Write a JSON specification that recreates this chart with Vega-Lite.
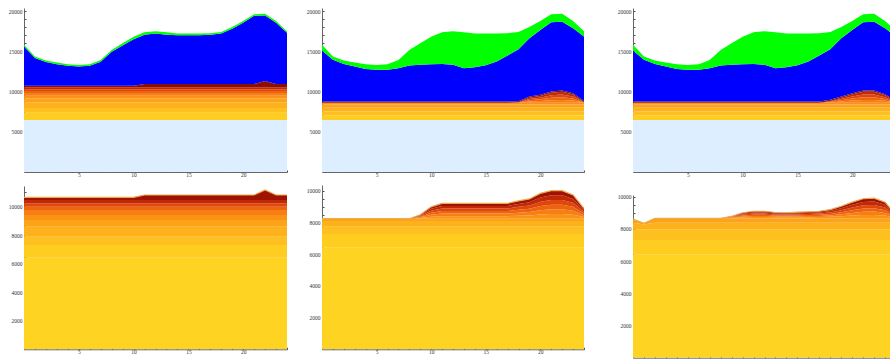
{
"$schema": "https://vega.github.io/schema/vega-lite/v6.json",
"padding": {"left": 0, "top": 8, "right": 0, "bottom": 0},
"background": "white",
"config": {
  "view": {"stroke": null},
  "axis": {"grid": false, "labelFont": "Liberation Serif", "labelFontSize": 5.5, "labelColor": "#333333", "labelPadding": 2, "domainColor": "#555555", "domainWidth": 0.9, "tickColor": "#222222", "tickSize": -2, "tickWidth": 0.8, "labelOverlap": false, "title": null},
  "axisY": {"labelPadding": 4}
},
"resolve": {"scale": {"color": "independent"}},
"datasets": {"d": [
{"p":1,"x":0,"c00":6470,"c01":895,"c02":585,"c03":700,"c04":470,"c05":350,"c06":350,"c07":230,"c08":240,"c09":230,"c10":180,"c11":4900,"c12":200},
{"p":1,"x":1,"c00":6470,"c01":895,"c02":585,"c03":700,"c04":470,"c05":350,"c06":350,"c07":230,"c08":240,"c09":230,"c10":180,"c11":3450,"c12":200},
{"p":1,"x":2,"c00":6470,"c01":895,"c02":585,"c03":700,"c04":470,"c05":350,"c06":350,"c07":230,"c08":240,"c09":230,"c10":180,"c11":2950,"c12":200},
{"p":1,"x":3,"c00":6470,"c01":895,"c02":585,"c03":700,"c04":470,"c05":350,"c06":350,"c07":230,"c08":240,"c09":230,"c10":180,"c11":2700,"c12":200},
{"p":1,"x":4,"c00":6470,"c01":895,"c02":585,"c03":700,"c04":470,"c05":350,"c06":350,"c07":230,"c08":240,"c09":230,"c10":180,"c11":2500,"c12":200},
{"p":1,"x":5,"c00":6470,"c01":895,"c02":585,"c03":700,"c04":470,"c05":350,"c06":350,"c07":230,"c08":240,"c09":230,"c10":180,"c11":2400,"c12":200},
{"p":1,"x":6,"c00":6470,"c01":895,"c02":585,"c03":700,"c04":470,"c05":350,"c06":350,"c07":230,"c08":240,"c09":230,"c10":180,"c11":2500,"c12":200},
{"p":1,"x":7,"c00":6470,"c01":895,"c02":585,"c03":700,"c04":470,"c05":350,"c06":350,"c07":230,"c08":240,"c09":230,"c10":180,"c11":3000,"c12":200},
{"p":1,"x":8,"c00":6470,"c01":895,"c02":585,"c03":700,"c04":470,"c05":350,"c06":350,"c07":230,"c08":240,"c09":230,"c10":180,"c11":4250,"c12":200},
{"p":1,"x":9,"c00":6470,"c01":895,"c02":585,"c03":700,"c04":470,"c05":350,"c06":350,"c07":230,"c08":240,"c09":230,"c10":180,"c11":5000,"c12":300},
{"p":1,"x":10,"c00":6470,"c01":895,"c02":585,"c03":700,"c04":470,"c05":350,"c06":350,"c07":230,"c08":240,"c09":230,"c10":180,"c11":5800,"c12":300},
{"p":1,"x":11,"c00":6470,"c01":895,"c02":585,"c03":700,"c04":470,"c05":350,"c06":350,"c07":230,"c08":240,"c09":230,"c10":400,"c11":6130,"c12":300},
{"p":1,"x":12,"c00":6470,"c01":895,"c02":585,"c03":700,"c04":470,"c05":350,"c06":350,"c07":230,"c08":240,"c09":230,"c10":400,"c11":6280,"c12":300},
{"p":1,"x":13,"c00":6470,"c01":895,"c02":585,"c03":700,"c04":470,"c05":350,"c06":350,"c07":230,"c08":240,"c09":230,"c10":400,"c11":6130,"c12":300},
{"p":1,"x":14,"c00":6470,"c01":895,"c02":585,"c03":700,"c04":470,"c05":350,"c06":350,"c07":230,"c08":240,"c09":230,"c10":400,"c11":6080,"c12":200},
{"p":1,"x":15,"c00":6470,"c01":895,"c02":585,"c03":700,"c04":470,"c05":350,"c06":350,"c07":230,"c08":240,"c09":230,"c10":400,"c11":6080,"c12":200},
{"p":1,"x":16,"c00":6470,"c01":895,"c02":585,"c03":700,"c04":470,"c05":350,"c06":350,"c07":230,"c08":240,"c09":230,"c10":400,"c11":6080,"c12":200},
{"p":1,"x":17,"c00":6470,"c01":895,"c02":585,"c03":700,"c04":470,"c05":350,"c06":350,"c07":230,"c08":240,"c09":230,"c10":400,"c11":6130,"c12":200},
{"p":1,"x":18,"c00":6470,"c01":895,"c02":585,"c03":700,"c04":470,"c05":350,"c06":350,"c07":230,"c08":240,"c09":230,"c10":400,"c11":6280,"c12":200},
{"p":1,"x":19,"c00":6470,"c01":895,"c02":585,"c03":700,"c04":470,"c05":350,"c06":350,"c07":230,"c08":240,"c09":230,"c10":400,"c11":6880,"c12":200},
{"p":1,"x":20,"c00":6470,"c01":895,"c02":585,"c03":700,"c04":470,"c05":350,"c06":350,"c07":230,"c08":240,"c09":230,"c10":400,"c11":7630,"c12":200},
{"p":1,"x":21,"c00":6470,"c01":895,"c02":585,"c03":700,"c04":470,"c05":350,"c06":350,"c07":230,"c08":240,"c09":230,"c10":400,"c11":8480,"c12":200},
{"p":1,"x":22,"c00":6470,"c01":895,"c02":585,"c03":700,"c04":470,"c05":350,"c06":350,"c07":230,"c08":240,"c09":230,"c10":800,"c11":8130,"c12":200},
{"p":1,"x":23,"c00":6470,"c01":895,"c02":585,"c03":700,"c04":470,"c05":350,"c06":350,"c07":230,"c08":240,"c09":230,"c10":400,"c11":7630,"c12":200},
{"p":1,"x":24,"c00":6470,"c01":895,"c02":585,"c03":700,"c04":470,"c05":350,"c06":350,"c07":230,"c08":240,"c09":230,"c10":400,"c11":6380,"c12":200},

{"p":2,"x":0,"c00":6470,"c01":550,"c02":500,"c03":450,"c04":400,"c05":240,"c06":0,"c07":0,"c08":0,"c09":0,"c10":150,"c11":6320,"c12":720},
{"p":2,"x":1,"c00":6470,"c01":550,"c02":500,"c03":450,"c04":400,"c05":240,"c06":0,"c07":0,"c08":0,"c09":0,"c10":150,"c11":5170,"c12":420},
{"p":2,"x":2,"c00":6470,"c01":550,"c02":500,"c03":450,"c04":400,"c05":240,"c06":0,"c07":0,"c08":0,"c09":0,"c10":150,"c11":4670,"c12":420},
{"p":2,"x":3,"c00":6470,"c01":550,"c02":500,"c03":450,"c04":400,"c05":240,"c06":0,"c07":0,"c08":0,"c09":0,"c10":150,"c11":4340,"c12":500},
{"p":2,"x":4,"c00":6470,"c01":550,"c02":500,"c03":450,"c04":400,"c05":240,"c06":0,"c07":0,"c08":0,"c09":0,"c10":150,"c11":4050,"c12":590},
{"p":2,"x":5,"c00":6470,"c01":550,"c02":500,"c03":450,"c04":400,"c05":240,"c06":0,"c07":0,"c08":0,"c09":0,"c10":150,"c11":3930,"c12":610},
{"p":2,"x":6,"c00":6470,"c01":550,"c02":500,"c03":450,"c04":400,"c05":240,"c06":0,"c07":0,"c08":0,"c09":0,"c10":150,"c11":3930,"c12":710},
{"p":2,"x":7,"c00":6470,"c01":550,"c02":500,"c03":450,"c04":400,"c05":240,"c06":0,"c07":0,"c08":0,"c09":0,"c10":150,"c11":4130,"c12":1010},
{"p":2,"x":8,"c00":6470,"c01":550,"c02":500,"c03":450,"c04":400,"c05":240,"c06":0,"c07":0,"c08":0,"c09":0,"c10":150,"c11":4460,"c12":1930},
{"p":2,"x":9,"c00":6470,"c01":550,"c02":500,"c03":450,"c04":400,"c05":240,"c06":0,"c07":0,"c08":0,"c09":0,"c10":150,"c11":4550,"c12":2690},
{"p":2,"x":10,"c00":6470,"c01":550,"c02":500,"c03":450,"c04":400,"c05":240,"c06":0,"c07":0,"c08":0,"c09":0,"c10":150,"c11":4630,"c12":3410},
{"p":2,"x":11,"c00":6470,"c01":550,"c02":500,"c03":450,"c04":400,"c05":240,"c06":0,"c07":0,"c08":0,"c09":0,"c10":150,"c11":4670,"c12":3920},
{"p":2,"x":12,"c00":6470,"c01":550,"c02":500,"c03":450,"c04":400,"c05":240,"c06":0,"c07":0,"c08":0,"c09":0,"c10":150,"c11":4550,"c12":4190},
{"p":2,"x":13,"c00":6470,"c01":550,"c02":500,"c03":450,"c04":400,"c05":240,"c06":0,"c07":0,"c08":0,"c09":0,"c10":150,"c11":4130,"c12":4460},
{"p":2,"x":14,"c00":6470,"c01":550,"c02":500,"c03":450,"c04":400,"c05":240,"c06":0,"c07":0,"c08":0,"c09":0,"c10":150,"c11":4260,"c12":4180},
{"p":2,"x":15,"c00":6470,"c01":550,"c02":500,"c03":450,"c04":400,"c05":240,"c06":0,"c07":0,"c08":0,"c09":0,"c10":150,"c11":4500,"c12":3940},
{"p":2,"x":16,"c00":6470,"c01":550,"c02":500,"c03":450,"c04":400,"c05":240,"c06":0,"c07":0,"c08":0,"c09":0,"c10":150,"c11":4960,"c12":3480},
{"p":2,"x":17,"c00":6470,"c01":550,"c02":500,"c03":450,"c04":400,"c05":240,"c06":0,"c07":0,"c08":0,"c09":0,"c10":150,"c11":5700,"c12":2790},
{"p":2,"x":18,"c00":6470,"c01":550,"c02":500,"c03":450,"c04":400,"c05":240,"c06":10,"c07":10,"c08":10,"c09":10,"c10":150,"c11":6450,"c12":2150},
{"p":2,"x":19,"c00":6470,"c01":550,"c02":500,"c03":450,"c04":400,"c05":240,"c06":155,"c07":155,"c08":155,"c09":155,"c10":150,"c11":7230,"c12":1390},
{"p":2,"x":20,"c00":6470,"c01":550,"c02":500,"c03":450,"c04":400,"c05":240,"c06":208,"c07":208,"c08":208,"c09":208,"c10":150,"c11":8050,"c12":1110},
{"p":2,"x":21,"c00":6470,"c01":550,"c02":500,"c03":450,"c04":400,"c05":240,"c06":310,"c07":310,"c08":310,"c09":310,"c10":150,"c11":8600,"c12":1000},
{"p":2,"x":22,"c00":6470,"c01":550,"c02":500,"c03":450,"c04":400,"c05":240,"c06":340,"c07":340,"c08":340,"c09":340,"c10":150,"c11":8560,"c12":970},
{"p":2,"x":23,"c00":6470,"c01":550,"c02":500,"c03":450,"c04":400,"c05":240,"c06":258,"c07":258,"c08":258,"c09":258,"c10":150,"c11":8060,"c12":900},
{"p":2,"x":24,"c00":6470,"c01":550,"c02":500,"c03":450,"c04":400,"c05":240,"c06":15,"c07":15,"c08":15,"c09":15,"c10":150,"c11":8000,"c12":680},

{"p":3,"x":0,"c00":6470,"c01":550,"c02":500,"c03":450,"c04":400,"c05":240,"c06":0,"c07":0,"c08":0,"c09":0,"c10":150,"c11":6320,"c12":720},
{"p":3,"x":1,"c00":6470,"c01":550,"c02":500,"c03":450,"c04":400,"c05":240,"c06":0,"c07":0,"c08":0,"c09":0,"c10":150,"c11":5170,"c12":420},
{"p":3,"x":2,"c00":6470,"c01":550,"c02":500,"c03":450,"c04":400,"c05":240,"c06":0,"c07":0,"c08":0,"c09":0,"c10":150,"c11":4670,"c12":420},
{"p":3,"x":3,"c00":6470,"c01":550,"c02":500,"c03":450,"c04":400,"c05":240,"c06":0,"c07":0,"c08":0,"c09":0,"c10":150,"c11":4340,"c12":500},
{"p":3,"x":4,"c00":6470,"c01":550,"c02":500,"c03":450,"c04":400,"c05":240,"c06":0,"c07":0,"c08":0,"c09":0,"c10":150,"c11":4050,"c12":590},
{"p":3,"x":5,"c00":6470,"c01":550,"c02":500,"c03":450,"c04":400,"c05":240,"c06":0,"c07":0,"c08":0,"c09":0,"c10":150,"c11":3930,"c12":610},
{"p":3,"x":6,"c00":6470,"c01":550,"c02":500,"c03":450,"c04":400,"c05":240,"c06":0,"c07":0,"c08":0,"c09":0,"c10":150,"c11":3930,"c12":710},
{"p":3,"x":7,"c00":6470,"c01":550,"c02":500,"c03":450,"c04":400,"c05":240,"c06":0,"c07":0,"c08":0,"c09":0,"c10":150,"c11":4130,"c12":1010},
{"p":3,"x":8,"c00":6470,"c01":550,"c02":500,"c03":450,"c04":400,"c05":240,"c06":0,"c07":0,"c08":0,"c09":0,"c10":150,"c11":4460,"c12":1930},
{"p":3,"x":9,"c00":6470,"c01":550,"c02":500,"c03":450,"c04":400,"c05":240,"c06":0,"c07":0,"c08":0,"c09":0,"c10":150,"c11":4550,"c12":2690},
{"p":3,"x":10,"c00":6470,"c01":550,"c02":500,"c03":450,"c04":400,"c05":240,"c06":0,"c07":0,"c08":0,"c09":0,"c10":150,"c11":4630,"c12":3410},
{"p":3,"x":11,"c00":6470,"c01":550,"c02":500,"c03":450,"c04":400,"c05":240,"c06":0,"c07":0,"c08":0,"c09":0,"c10":150,"c11":4670,"c12":3920},
{"p":3,"x":12,"c00":6470,"c01":550,"c02":500,"c03":450,"c04":400,"c05":240,"c06":0,"c07":0,"c08":0,"c09":0,"c10":150,"c11":4550,"c12":4190},
{"p":3,"x":13,"c00":6470,"c01":550,"c02":500,"c03":450,"c04":400,"c05":240,"c06":0,"c07":0,"c08":0,"c09":0,"c10":150,"c11":4130,"c12":4460},
{"p":3,"x":14,"c00":6470,"c01":550,"c02":500,"c03":450,"c04":400,"c05":240,"c06":0,"c07":0,"c08":0,"c09":0,"c10":150,"c11":4260,"c12":4180},
{"p":3,"x":15,"c00":6470,"c01":550,"c02":500,"c03":450,"c04":400,"c05":240,"c06":0,"c07":0,"c08":0,"c09":0,"c10":150,"c11":4500,"c12":3940},
{"p":3,"x":16,"c00":6470,"c01":550,"c02":500,"c03":450,"c04":400,"c05":240,"c06":0,"c07":0,"c08":0,"c09":0,"c10":150,"c11":4960,"c12":3480},
{"p":3,"x":17,"c00":6470,"c01":550,"c02":500,"c03":450,"c04":400,"c05":240,"c06":0,"c07":0,"c08":0,"c09":0,"c10":150,"c11":5700,"c12":2790},
{"p":3,"x":18,"c00":6470,"c01":550,"c02":500,"c03":450,"c04":400,"c05":240,"c06":52,"c07":52,"c08":52,"c09":52,"c10":150,"c11":6280,"c12":2150},
{"p":3,"x":19,"c00":6470,"c01":550,"c02":500,"c03":450,"c04":400,"c05":240,"c06":155,"c07":155,"c08":155,"c09":155,"c10":150,"c11":7230,"c12":1390},
{"p":3,"x":20,"c00":6470,"c01":550,"c02":500,"c03":450,"c04":400,"c05":240,"c06":258,"c07":258,"c08":258,"c09":258,"c10":150,"c11":7850,"c12":1110},
{"p":3,"x":21,"c00":6470,"c01":550,"c02":500,"c03":450,"c04":400,"c05":240,"c06":340,"c07":340,"c08":340,"c09":340,"c10":150,"c11":8480,"c12":1000},
{"p":3,"x":22,"c00":6470,"c01":550,"c02":500,"c03":450,"c04":400,"c05":240,"c06":340,"c07":340,"c08":340,"c09":340,"c10":150,"c11":8560,"c12":970},
{"p":3,"x":23,"c00":6470,"c01":550,"c02":500,"c03":450,"c04":400,"c05":240,"c06":228,"c07":228,"c08":228,"c09":228,"c10":150,"c11":8180,"c12":900},
{"p":3,"x":24,"c00":6470,"c01":550,"c02":500,"c03":450,"c04":400,"c05":240,"c06":10,"c07":10,"c08":10,"c09":10,"c10":150,"c11":8020,"c12":680},

{"p":4,"x":0,"c00":6420,"c01":895,"c02":585,"c03":700,"c04":470,"c05":350,"c06":350,"c07":230,"c08":240,"c09":230,"c10":190},
{"p":4,"x":1,"c00":6420,"c01":895,"c02":585,"c03":700,"c04":470,"c05":350,"c06":350,"c07":230,"c08":240,"c09":230,"c10":190},
{"p":4,"x":2,"c00":6420,"c01":895,"c02":585,"c03":700,"c04":470,"c05":350,"c06":350,"c07":230,"c08":240,"c09":230,"c10":190},
{"p":4,"x":3,"c00":6420,"c01":895,"c02":585,"c03":700,"c04":470,"c05":350,"c06":350,"c07":230,"c08":240,"c09":230,"c10":190},
{"p":4,"x":4,"c00":6420,"c01":895,"c02":585,"c03":700,"c04":470,"c05":350,"c06":350,"c07":230,"c08":240,"c09":230,"c10":190},
{"p":4,"x":5,"c00":6420,"c01":895,"c02":585,"c03":700,"c04":470,"c05":350,"c06":350,"c07":230,"c08":240,"c09":230,"c10":190},
{"p":4,"x":6,"c00":6420,"c01":895,"c02":585,"c03":700,"c04":470,"c05":350,"c06":350,"c07":230,"c08":240,"c09":230,"c10":190},
{"p":4,"x":7,"c00":6420,"c01":895,"c02":585,"c03":700,"c04":470,"c05":350,"c06":350,"c07":230,"c08":240,"c09":230,"c10":190},
{"p":4,"x":8,"c00":6420,"c01":895,"c02":585,"c03":700,"c04":470,"c05":350,"c06":350,"c07":230,"c08":240,"c09":230,"c10":190},
{"p":4,"x":9,"c00":6420,"c01":895,"c02":585,"c03":700,"c04":470,"c05":350,"c06":350,"c07":230,"c08":240,"c09":230,"c10":190},
{"p":4,"x":10,"c00":6420,"c01":895,"c02":585,"c03":700,"c04":470,"c05":350,"c06":350,"c07":230,"c08":240,"c09":230,"c10":190},
{"p":4,"x":11,"c00":6420,"c01":895,"c02":585,"c03":700,"c04":470,"c05":350,"c06":350,"c07":230,"c08":240,"c09":230,"c10":350},
{"p":4,"x":12,"c00":6420,"c01":895,"c02":585,"c03":700,"c04":470,"c05":350,"c06":350,"c07":230,"c08":240,"c09":230,"c10":350},
{"p":4,"x":13,"c00":6420,"c01":895,"c02":585,"c03":700,"c04":470,"c05":350,"c06":350,"c07":230,"c08":240,"c09":230,"c10":350},
{"p":4,"x":14,"c00":6420,"c01":895,"c02":585,"c03":700,"c04":470,"c05":350,"c06":350,"c07":230,"c08":240,"c09":230,"c10":350},
{"p":4,"x":15,"c00":6420,"c01":895,"c02":585,"c03":700,"c04":470,"c05":350,"c06":350,"c07":230,"c08":240,"c09":230,"c10":350},
{"p":4,"x":16,"c00":6420,"c01":895,"c02":585,"c03":700,"c04":470,"c05":350,"c06":350,"c07":230,"c08":240,"c09":230,"c10":350},
{"p":4,"x":17,"c00":6420,"c01":895,"c02":585,"c03":700,"c04":470,"c05":350,"c06":350,"c07":230,"c08":240,"c09":230,"c10":350},
{"p":4,"x":18,"c00":6420,"c01":895,"c02":585,"c03":700,"c04":470,"c05":350,"c06":350,"c07":230,"c08":240,"c09":230,"c10":350},
{"p":4,"x":19,"c00":6420,"c01":895,"c02":585,"c03":700,"c04":470,"c05":350,"c06":350,"c07":230,"c08":240,"c09":230,"c10":350},
{"p":4,"x":20,"c00":6420,"c01":895,"c02":585,"c03":700,"c04":470,"c05":350,"c06":350,"c07":230,"c08":240,"c09":230,"c10":350},
{"p":4,"x":21,"c00":6420,"c01":895,"c02":585,"c03":700,"c04":470,"c05":350,"c06":350,"c07":230,"c08":240,"c09":230,"c10":350},
{"p":4,"x":22,"c00":6420,"c01":895,"c02":585,"c03":700,"c04":470,"c05":350,"c06":350,"c07":230,"c08":240,"c09":230,"c10":700},
{"p":4,"x":23,"c00":6420,"c01":895,"c02":585,"c03":700,"c04":470,"c05":350,"c06":350,"c07":230,"c08":240,"c09":230,"c10":350},
{"p":4,"x":24,"c00":6420,"c01":895,"c02":585,"c03":700,"c04":470,"c05":350,"c06":350,"c07":230,"c08":240,"c09":230,"c10":350},

{"p":5,"x":0,"c00":6420,"c01":860,"c02":460,"c03":360,"c04":150,"c05":0,"c06":0,"c07":0,"c08":0,"c09":0,"c10":0},
{"p":5,"x":1,"c00":6420,"c01":860,"c02":460,"c03":360,"c04":150,"c05":0,"c06":0,"c07":0,"c08":0,"c09":0,"c10":0},
{"p":5,"x":2,"c00":6420,"c01":860,"c02":460,"c03":360,"c04":150,"c05":0,"c06":0,"c07":0,"c08":0,"c09":0,"c10":0},
{"p":5,"x":3,"c00":6420,"c01":860,"c02":460,"c03":360,"c04":150,"c05":0,"c06":0,"c07":0,"c08":0,"c09":0,"c10":0},
{"p":5,"x":4,"c00":6420,"c01":860,"c02":460,"c03":360,"c04":150,"c05":0,"c06":0,"c07":0,"c08":0,"c09":0,"c10":0},
{"p":5,"x":5,"c00":6420,"c01":860,"c02":460,"c03":360,"c04":150,"c05":0,"c06":0,"c07":0,"c08":0,"c09":0,"c10":0},
{"p":5,"x":6,"c00":6420,"c01":860,"c02":460,"c03":360,"c04":150,"c05":0,"c06":0,"c07":0,"c08":0,"c09":0,"c10":0},
{"p":5,"x":7,"c00":6420,"c01":860,"c02":460,"c03":360,"c04":150,"c05":0,"c06":0,"c07":0,"c08":0,"c09":0,"c10":0},
{"p":5,"x":8,"c00":6420,"c01":860,"c02":460,"c03":360,"c04":150,"c05":0,"c06":0,"c07":0,"c08":0,"c09":0,"c10":0},
{"p":5,"x":9,"c00":6420,"c01":860,"c02":460,"c03":360,"c04":150,"c05":42,"c06":42,"c07":42,"c08":42,"c09":42,"c10":42},
{"p":5,"x":10,"c00":6420,"c01":860,"c02":460,"c03":360,"c04":150,"c05":125,"c06":125,"c07":125,"c08":125,"c09":125,"c10":125},
{"p":5,"x":11,"c00":6420,"c01":860,"c02":460,"c03":360,"c04":150,"c05":162,"c06":162,"c07":162,"c08":162,"c09":162,"c10":162},
{"p":5,"x":12,"c00":6420,"c01":860,"c02":460,"c03":360,"c04":150,"c05":162,"c06":162,"c07":162,"c08":162,"c09":162,"c10":162},
{"p":5,"x":13,"c00":6420,"c01":860,"c02":460,"c03":360,"c04":150,"c05":162,"c06":162,"c07":162,"c08":162,"c09":162,"c10":162},
{"p":5,"x":14,"c00":6420,"c01":860,"c02":460,"c03":360,"c04":150,"c05":162,"c06":162,"c07":162,"c08":162,"c09":162,"c10":162},
{"p":5,"x":15,"c00":6420,"c01":860,"c02":460,"c03":360,"c04":150,"c05":162,"c06":162,"c07":162,"c08":162,"c09":162,"c10":162},
{"p":5,"x":16,"c00":6420,"c01":860,"c02":460,"c03":360,"c04":150,"c05":162,"c06":162,"c07":162,"c08":162,"c09":162,"c10":162},
{"p":5,"x":17,"c00":6420,"c01":860,"c02":460,"c03":360,"c04":150,"c05":162,"c06":162,"c07":162,"c08":162,"c09":162,"c10":162},
{"p":5,"x":18,"c00":6420,"c01":860,"c02":460,"c03":360,"c04":150,"c05":187,"c06":187,"c07":187,"c08":187,"c09":187,"c10":187},
{"p":5,"x":19,"c00":6420,"c01":860,"c02":460,"c03":360,"c04":150,"c05":208,"c06":208,"c07":208,"c08":208,"c09":208,"c10":208},
{"p":5,"x":20,"c00":6420,"c01":860,"c02":460,"c03":360,"c04":150,"c05":267,"c06":267,"c07":267,"c08":267,"c09":267,"c10":267},
{"p":5,"x":21,"c00":6420,"c01":860,"c02":460,"c03":360,"c04":150,"c05":295,"c06":295,"c07":295,"c08":295,"c09":295,"c10":295},
{"p":5,"x":22,"c00":6420,"c01":860,"c02":460,"c03":360,"c04":150,"c05":295,"c06":295,"c07":295,"c08":295,"c09":295,"c10":295},
{"p":5,"x":23,"c00":6420,"c01":860,"c02":460,"c03":360,"c04":150,"c05":250,"c06":250,"c07":250,"c08":250,"c09":250,"c10":250},
{"p":5,"x":24,"c00":6420,"c01":860,"c02":460,"c03":360,"c04":150,"c05":108,"c06":108,"c07":108,"c08":108,"c09":108,"c10":108},

{"p":6,"x":0,"c00":6400,"c01":910,"c02":665,"c03":400,"c04":240,"c05":0,"c06":0,"c07":0,"c08":0,"c09":0,"c10":0},
{"p":6,"x":1,"c00":6400,"c01":910,"c02":665,"c03":300,"c04":75,"c05":0,"c06":0,"c07":0,"c08":0,"c09":0,"c10":0},
{"p":6,"x":2,"c00":6400,"c01":910,"c02":665,"c03":400,"c04":285,"c05":0,"c06":0,"c07":0,"c08":0,"c09":0,"c10":0},
{"p":6,"x":3,"c00":6400,"c01":910,"c02":665,"c03":400,"c04":285,"c05":0,"c06":0,"c07":0,"c08":0,"c09":0,"c10":0},
{"p":6,"x":4,"c00":6400,"c01":910,"c02":665,"c03":400,"c04":285,"c05":0,"c06":0,"c07":0,"c08":0,"c09":0,"c10":0},
{"p":6,"x":5,"c00":6400,"c01":910,"c02":665,"c03":400,"c04":285,"c05":0,"c06":0,"c07":0,"c08":0,"c09":0,"c10":0},
{"p":6,"x":6,"c00":6400,"c01":910,"c02":665,"c03":400,"c04":285,"c05":0,"c06":0,"c07":0,"c08":0,"c09":0,"c10":0},
{"p":6,"x":7,"c00":6400,"c01":910,"c02":665,"c03":400,"c04":285,"c05":0,"c06":0,"c07":0,"c08":0,"c09":0,"c10":0},
{"p":6,"x":8,"c00":6400,"c01":910,"c02":665,"c03":400,"c04":285,"c05":0,"c06":0,"c07":0,"c08":0,"c09":0,"c10":0},
{"p":6,"x":9,"c00":6400,"c01":910,"c02":665,"c03":400,"c04":285,"c05":20,"c06":20,"c07":20,"c08":20,"c09":20,"c10":20},
{"p":6,"x":10,"c00":6400,"c01":910,"c02":665,"c03":400,"c04":285,"c05":57,"c06":57,"c07":57,"c08":57,"c09":57,"c10":57},
{"p":6,"x":11,"c00":6400,"c01":910,"c02":665,"c03":400,"c04":285,"c05":73,"c06":73,"c07":73,"c08":73,"c09":73,"c10":73},
{"p":6,"x":12,"c00":6400,"c01":910,"c02":665,"c03":400,"c04":285,"c05":73,"c06":73,"c07":73,"c08":73,"c09":73,"c10":73},
{"p":6,"x":13,"c00":6400,"c01":910,"c02":665,"c03":400,"c04":285,"c05":60,"c06":60,"c07":60,"c08":60,"c09":60,"c10":60},
{"p":6,"x":14,"c00":6400,"c01":910,"c02":665,"c03":400,"c04":285,"c05":57,"c06":57,"c07":57,"c08":57,"c09":57,"c10":57},
{"p":6,"x":15,"c00":6400,"c01":910,"c02":665,"c03":400,"c04":285,"c05":63,"c06":63,"c07":63,"c08":63,"c09":63,"c10":63},
{"p":6,"x":16,"c00":6400,"c01":910,"c02":665,"c03":400,"c04":285,"c05":67,"c06":67,"c07":67,"c08":67,"c09":67,"c10":67},
{"p":6,"x":17,"c00":6400,"c01":910,"c02":665,"c03":400,"c04":285,"c05":73,"c06":73,"c07":73,"c08":73,"c09":73,"c10":73},
{"p":6,"x":18,"c00":6400,"c01":910,"c02":665,"c03":400,"c04":285,"c05":90,"c06":90,"c07":90,"c08":90,"c09":90,"c10":90},
{"p":6,"x":19,"c00":6400,"c01":910,"c02":665,"c03":400,"c04":285,"c05":125,"c06":125,"c07":125,"c08":125,"c09":125,"c10":125},
{"p":6,"x":20,"c00":6400,"c01":910,"c02":665,"c03":400,"c04":285,"c05":167,"c06":167,"c07":167,"c08":167,"c09":167,"c10":167},
{"p":6,"x":21,"c00":6400,"c01":910,"c02":665,"c03":400,"c04":285,"c05":202,"c06":202,"c07":202,"c08":202,"c09":202,"c10":202},
{"p":6,"x":22,"c00":6400,"c01":910,"c02":665,"c03":400,"c04":285,"c05":208,"c06":208,"c07":208,"c08":208,"c09":208,"c10":208},
{"p":6,"x":23,"c00":6400,"c01":910,"c02":665,"c03":400,"c04":285,"c05":167,"c06":167,"c07":167,"c08":167,"c09":167,"c10":167},
{"p":6,"x":24,"c00":6400,"c01":910,"c02":665,"c03":400,"c04":285,"c05":32,"c06":32,"c07":32,"c08":32,"c09":32,"c10":32}
]},
"spacing": 0,
"hconcat": [
 {"spacing": 14, "bounds": "flush", "resolve": {"scale": {"color": "independent"}}, "vconcat": [
  {"width": 263, "height": 164, "data": {"name": "d"},
   "transform": [{"filter": "datum.p == 1"}, {"fold": ["c00","c01","c02","c03","c04","c05","c06","c07","c08","c09","c10","c11","c12"], "as": ["k","v"]}],
   "mark": {"type": "area", "clip": true},
   "encoding": {
    "x": {"field": "x", "type": "quantitative", "scale": {"domain": [0, 24], "nice": false, "zero": false}, "axis": {"values": [1,2,3,4,5,6,7,8,9,10,11,12,13,14,15,16,17,18,19,20,21,22,23,24], "labelExpr": "datum.value % 5 == 0 ? datum.label : ''", "title": null}},
    "y": {"field": "v", "type": "quantitative", "stack": "zero", "scale": {"domain": [0, 20373], "nice": false}, "axis": {"values": [1000,2000,3000,4000,5000,6000,7000,8000,9000,10000,11000,12000,13000,14000,15000,16000,17000,18000,19000,20000], "format": "d", "labelExpr": "datum.value % 5000 == 0 ? datum.label : ''", "minExtent": 24, "maxExtent": 24, "title": null}},
    "color": {"field": "k", "type": "nominal", "legend": null, "scale": {"domain": ["c00","c01","c02","c03","c04","c05","c06","c07","c08","c09","c10","c11","c12"], "range": ["#DCEEFF","#FFCC20","#FEC01E","#FDB21B","#FCA318","#FA9215","#F67E12","#EE640E","#DE460A","#C02806","#8E0E02","#0000FF","#00FF00"]}},
    "order": {"field": "k", "type": "ordinal", "sort": "ascending"}
   }},
  {"width": 263, "height": 163.3, "data": {"name": "d"},
   "transform": [{"filter": "datum.p == 4"}, {"fold": ["c00","c01","c02","c03","c04","c05","c06","c07","c08","c09","c10"], "as": ["k","v"]}],
   "layer": [
    {"mark": {"type": "area", "clip": true},
     "encoding": {
      "x": {"field": "x", "type": "quantitative", "scale": {"domain": [0, 24], "nice": false, "zero": false}, "axis": {"values": [1,2,3,4,5,6,7,8,9,10,11,12,13,14,15,16,17,18,19,20,21,22,23,24], "labelExpr": "datum.value % 5 == 0 ? datum.label : ''", "title": null}},
      "y": {"field": "v", "type": "quantitative", "stack": "zero", "scale": {"domain": [0, 11452], "nice": false}, "axis": {"values": [500,1000,1500,2000,2500,3000,3500,4000,4500,5000,5500,6000,6500,7000,7500,8000,8500,9000,9500,10000,10500,11000], "format": "d", "labelExpr": "datum.value % 2000 == 0 ? datum.label : ''", "minExtent": 24, "maxExtent": 24, "title": null}},
      "color": {"field": "k", "type": "nominal", "legend": null, "scale": {"domain": ["c00","c01","c02","c03","c04","c05","c06","c07","c08","c09","c10"], "range": ["#FFD322","#FFCC20","#FEC01E","#FDB21B","#FCA318","#FA9215","#F67E12","#EE640E","#DE460A","#C02806","#A01204"]}},
      "order": {"field": "k", "type": "ordinal", "sort": "ascending"}
     }},
    {"mark": {"type": "line", "clip": true, "color": "#EBAA4C", "strokeWidth": 1.2},
     "encoding": {
      "x": {"field": "x", "type": "quantitative", "scale": {"domain": [0, 24], "nice": false, "zero": false}, "axis": {"values": [1,2,3,4,5,6,7,8,9,10,11,12,13,14,15,16,17,18,19,20,21,22,23,24], "labelExpr": "datum.value % 5 == 0 ? datum.label : ''", "title": null}},
      "y": {"aggregate": "sum", "field": "v", "type": "quantitative", "scale": {"domain": [0, 11452], "nice": false}, "axis": {"values": [500,1000,1500,2000,2500,3000,3500,4000,4500,5000,5500,6000,6500,7000,7500,8000,8500,9000,9500,10000,10500,11000], "format": "d", "labelExpr": "datum.value % 2000 == 0 ? datum.label : ''", "minExtent": 24, "maxExtent": 24, "title": null}}
     }}
   ]}
 ]},
 {"spacing": 13, "bounds": "flush", "resolve": {"scale": {"color": "independent"}}, "vconcat": [
  {"width": 262, "height": 164, "data": {"name": "d"},
   "transform": [{"filter": "datum.p == 2"}, {"fold": ["c00","c01","c02","c03","c04","c05","c06","c07","c08","c09","c10","c11","c12"], "as": ["k","v"]}],
   "mark": {"type": "area", "clip": true},
   "encoding": {
    "x": {"field": "x", "type": "quantitative", "scale": {"domain": [0, 24], "nice": false, "zero": false}, "axis": {"values": [1,2,3,4,5,6,7,8,9,10,11,12,13,14,15,16,17,18,19,20,21,22,23,24], "labelExpr": "datum.value % 5 == 0 ? datum.label : ''", "title": null}},
    "y": {"field": "v", "type": "quantitative", "stack": "zero", "scale": {"domain": [0, 20373], "nice": false}, "axis": {"values": [1000,2000,3000,4000,5000,6000,7000,8000,9000,10000,11000,12000,13000,14000,15000,16000,17000,18000,19000,20000], "format": "d", "labelExpr": "datum.value % 5000 == 0 ? datum.label : ''", "minExtent": 34, "maxExtent": 34, "title": null}},
    "color": {"field": "k", "type": "nominal", "legend": null, "scale": {"domain": ["c00","c01","c02","c03","c04","c05","c06","c07","c08","c09","c10","c11","c12"], "range": ["#DCEEFF","#FFCC20","#FEC01E","#FDB21B","#FCA318","#FA9215","#F67E12","#EE640E","#DE460A","#C02806","#8E0E02","#0000FF","#00FF00"]}},
    "order": {"field": "k", "type": "ordinal", "sort": "ascending"}
   }},
  {"width": 262, "height": 164.3, "data": {"name": "d"},
   "transform": [{"filter": "datum.p == 5"}, {"fold": ["c00","c01","c02","c03","c04","c05","c06","c07","c08","c09","c10"], "as": ["k","v"]}],
   "layer": [
    {"mark": {"type": "area", "clip": true},
     "encoding": {
      "x": {"field": "x", "type": "quantitative", "scale": {"domain": [0, 24], "nice": false, "zero": false}, "axis": {"values": [1,2,3,4,5,6,7,8,9,10,11,12,13,14,15,16,17,18,19,20,21,22,23,24], "labelExpr": "datum.value % 5 == 0 ? datum.label : ''", "title": null}},
      "y": {"field": "v", "type": "quantitative", "stack": "zero", "scale": {"domain": [0, 10379], "nice": false}, "axis": {"values": [500,1000,1500,2000,2500,3000,3500,4000,4500,5000,5500,6000,6500,7000,7500,8000,8500,9000,9500,10000], "format": "d", "labelExpr": "datum.value % 2000 == 0 ? datum.label : ''", "minExtent": 34, "maxExtent": 34, "title": null}},
      "color": {"field": "k", "type": "nominal", "legend": null, "scale": {"domain": ["c00","c01","c02","c03","c04","c05","c06","c07","c08","c09","c10"], "range": ["#FFD322","#FFCC20","#FEC01E","#FDB21B","#FCA318","#FA9215","#F67E12","#EE640E","#DE460A","#C02806","#A01204"]}},
      "order": {"field": "k", "type": "ordinal", "sort": "ascending"}
     }},
    {"mark": {"type": "line", "clip": true, "color": "#EBAA4C", "strokeWidth": 1.2},
     "encoding": {
      "x": {"field": "x", "type": "quantitative", "scale": {"domain": [0, 24], "nice": false, "zero": false}, "axis": {"values": [1,2,3,4,5,6,7,8,9,10,11,12,13,14,15,16,17,18,19,20,21,22,23,24], "labelExpr": "datum.value % 5 == 0 ? datum.label : ''", "title": null}},
      "y": {"aggregate": "sum", "field": "v", "type": "quantitative", "scale": {"domain": [0, 10379], "nice": false}, "axis": {"values": [500,1000,1500,2000,2500,3000,3500,4000,4500,5000,5500,6000,6500,7000,7500,8000,8500,9000,9500,10000], "format": "d", "labelExpr": "datum.value % 2000 == 0 ? datum.label : ''", "minExtent": 34, "maxExtent": 34, "title": null}}
     }}
   ]}
 ]},
 {"spacing": 23, "bounds": "flush", "resolve": {"scale": {"color": "independent"}}, "vconcat": [
  {"width": 259, "height": 164, "data": {"name": "d"},
   "transform": [{"filter": "datum.p == 3"}, {"fold": ["c00","c01","c02","c03","c04","c05","c06","c07","c08","c09","c10","c11","c12"], "as": ["k","v"]}],
   "mark": {"type": "area", "clip": true},
   "encoding": {
    "x": {"field": "x", "type": "quantitative", "scale": {"domain": [0, 23.63], "nice": false, "zero": false}, "axis": {"values": [1,2,3,4,5,6,7,8,9,10,11,12,13,14,15,16,17,18,19,20,21,22,23], "labelExpr": "datum.value % 5 == 0 ? datum.label : ''", "title": null}},
    "y": {"field": "v", "type": "quantitative", "stack": "zero", "scale": {"domain": [0, 20373], "nice": false}, "axis": {"values": [1000,2000,3000,4000,5000,6000,7000,8000,9000,10000,11000,12000,13000,14000,15000,16000,17000,18000,19000,20000], "format": "d", "labelExpr": "datum.value % 5000 == 0 ? datum.label : ''", "minExtent": 48, "maxExtent": 48, "title": null}},
    "color": {"field": "k", "type": "nominal", "legend": null, "scale": {"domain": ["c00","c01","c02","c03","c04","c05","c06","c07","c08","c09","c10","c11","c12"], "range": ["#DCEEFF","#FFCC20","#FEC01E","#FDB21B","#FCA318","#FA9215","#F67E12","#EE640E","#DE460A","#C02806","#8E0E02","#0000FF","#00FF00"]}},
    "order": {"field": "k", "type": "ordinal", "sort": "ascending"}
   }},
  {"width": 259, "height": 162.7, "data": {"name": "d"},
   "transform": [{"filter": "datum.p == 6"}, {"fold": ["c00","c01","c02","c03","c04","c05","c06","c07","c08","c09","c10"], "as": ["k","v"]}],
   "layer": [
    {"mark": {"type": "area", "clip": true},
     "encoding": {
      "x": {"field": "x", "type": "quantitative", "scale": {"domain": [0, 23.63], "nice": false, "zero": false}, "axis": {"values": [1,2,3,4,5,6,7,8,9,10,11,12,13,14,15,16,17,18,19,20,21,22,23], "labels": false, "title": null}},
      "y": {"field": "v", "type": "quantitative", "stack": "zero", "scale": {"domain": [0, 10106], "nice": false}, "axis": {"values": [500,1000,1500,2000,2500,3000,3500,4000,4500,5000,5500,6000,6500,7000,7500,8000,8500,9000,9500,10000], "format": "d", "labelExpr": "datum.value % 2000 == 0 ? datum.label : ''", "minExtent": 48, "maxExtent": 48, "title": null}},
      "color": {"field": "k", "type": "nominal", "legend": null, "scale": {"domain": ["c00","c01","c02","c03","c04","c05","c06","c07","c08","c09","c10"], "range": ["#FFD322","#FFCC20","#FEC01E","#FDB21B","#FCA318","#FA9215","#F67E12","#EE640E","#DE460A","#C02806","#A01204"]}},
      "order": {"field": "k", "type": "ordinal", "sort": "ascending"}
     }},
    {"mark": {"type": "line", "clip": true, "color": "#EBAA4C", "strokeWidth": 1.2},
     "encoding": {
      "x": {"field": "x", "type": "quantitative", "scale": {"domain": [0, 23.63], "nice": false, "zero": false}, "axis": {"values": [1,2,3,4,5,6,7,8,9,10,11,12,13,14,15,16,17,18,19,20,21,22,23], "labels": false, "title": null}},
      "y": {"aggregate": "sum", "field": "v", "type": "quantitative", "scale": {"domain": [0, 10106], "nice": false}, "axis": {"values": [500,1000,1500,2000,2500,3000,3500,4000,4500,5000,5500,6000,6500,7000,7500,8000,8500,9000,9500,10000], "format": "d", "labelExpr": "datum.value % 2000 == 0 ? datum.label : ''", "minExtent": 48, "maxExtent": 48, "title": null}}
     }}
   ]}
 ]}
]
}
